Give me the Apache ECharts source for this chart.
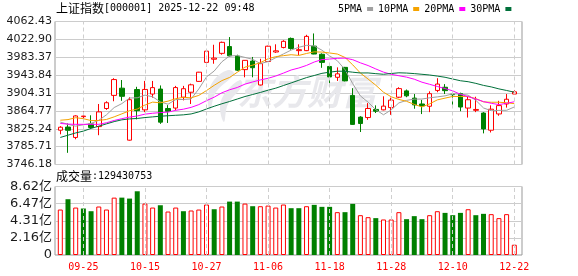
<!DOCTYPE html>
<html><head><meta charset="utf-8">
<script src="https://cdn.jsdelivr.net/npm/echarts@6/dist/echarts.min.js"></script>
<style>html,body{margin:0;padding:0;background:#fff}#c{width:578px;height:276px}</style>
</head><body><div id="c"></div>
<script>
const indexName = '上证指数';
const indexCode = '000001';
const stamp = '2025-12-22 09:48';
const lastVolume = 129430753;

const dates = ['09-22','09-23','09-24','09-25','09-26','09-29','09-30','10-09','10-10','10-13','10-14','10-15','10-16','10-17','10-20','10-21','10-22','10-23','10-24','10-27','10-28','10-29','10-30','10-31','11-03','11-04','11-05','11-06','11-07','11-10','11-11','11-12','11-13','11-14','11-17','11-18','11-19','11-20','11-21','11-24','11-25','11-26','11-27','11-28','12-01','12-02','12-03','12-04','12-05','12-08','12-09','12-10','12-11','12-12','12-15','12-16','12-17','12-18','12-19','12-22'];
const labelDates = ['09-25','10-15','10-27','11-06','11-18','11-28','12-10','12-22'];

const opens = [3822,3829,3806,3852,3836,3830,3870,3899,3915,3800,3912,3867,3902,3913,3870,3871,3895,3906,3930,3972,3979,3992,4007,3986,3956,3975,3922,3974,3995,4005,4025,3998,3998,4008,3990,3963,3939,3961,3899,3851,3850,3868,3867,3872,3895,3909,3893,3880,3875,3910,3917,3901.5,3903,3871,3866,3860,3822,3858,3880,3902];
const closes = [3828.6,3821.8,3853.6,3853.3,3828.1,3862.5,3882.8,3934.0,3897.0,3889.5,3865.2,3912.2,3916.2,3839.8,3863.9,3916.3,3913.8,3922.4,3950.3,3996.9,3981.5,4016.3,3986.5,3954.8,3976.5,3960.2,3969.3,4007.8,3997.6,4018.6,4002.8,4000.1,4029.5,3990.5,3972.0,3939.8,3946.7,3931.1,3834.9,3836.8,3870.0,3864.0,3875.3,3888.6,3914.0,3898.0,3878.0,3875.8,3902.8,3924.1,3909.5,3900.5,3873.3,3889.4,3867.9,3824.8,3868.5,3876.4,3890.5,3907.0];
const lows = [3813,3772,3802,3841,3825,3811,3867,3886,3887,3799,3846,3862,3894,3836,3838,3866,3888,3880,3929,3963,3969,3989,3985,3953,3939,3939,3921,3973,3993,4003,4000,3988,3997,3990,3960,3926,3931,3930,3834,3818,3845,3860,3866,3856,3893,3895,3869.5,3857.7,3862,3906,3902,3876,3864,3850,3862,3815,3817,3854,3872,3901];
const highs = [3831,3837,3855,3864,3855,3880,3886,3937,3933,3895,3918,3931,3931,3921,3877.5,3920,3920,3925,3951,3998,4011,4018,4028,3989,3977,3984,3980,4009,4012,4021,4027,4012,4033,4036,3992,3967,3961,3962,3915,3853,3882,3877,3897,3894,3917,3912,3902,3889,3908,3937,3924,3903.5,3905,3896,3896,3862,3877,3887,3902,3911];

const ma5 = [3840,3835,3831,3834,3837.1,3843.9,3856.1,3872.1,3880.9,3893.2,3893.7,3899.6,3896.0,3884.6,3879.5,3889.7,3890.0,3891.2,3913.3,3939.9,3952.9,3973.4,3986.2,3987.1,3983.0,3978.8,3969.4,3973.7,3982.3,3990.7,3999.2,4005.4,4009.7,4008.3,3999.0,3986.4,3975.7,3956.0,3924.9,3897.9,3883.9,3867.4,3856.2,3866.9,3882.4,3888.0,3890.8,3890.9,3893.7,3895.7,3898.0,3902.5,3902.0,3899.4,3888.1,3871.2,3865.1,3865.8,3866.0,3873.4];
const ma10 = [3844.1,3845.5,3849.7,3847.5,3843.3,3843.6,3845.8,3851.6,3858.2,3865.1,3868.8,3877.8,3884.1,3882.7,3886.3,3891.7,3894.8,3893.6,3899.0,3909.7,3921.3,3931.7,3938.7,3950.2,3961.5,3965.9,3971.4,3980.0,3984.7,3986.9,3989.0,3987.4,3991.7,3995.3,3994.8,3992.8,3990.5,3982.9,3966.6,3948.4,3935.1,3921.5,3906.1,3895.9,3890.1,3885.9,3879.1,3873.5,3880.3,3889.1,3893.0,3896.7,3896.5,3896.5,3891.9,3884.6,3883.8,3883.9,3882.7,3880.8];
const ma20 = [3837,3835.5,3835,3835,3835,3835,3838.5,3843.5,3847.5,3851,3853.5,3857.5,3859.5,3861,3862,3866,3868.5,3872.5,3878.6,3887.4,3895.1,3904.8,3911.4,3916.5,3923.9,3928.8,3933.2,3936.8,3941.9,3948.3,3955.2,3959.6,3965.3,3972.8,3978.2,3979.4,3981.0,3981.5,3978.0,3971.0,3965.0,3957.5,3950.5,3945.6,3942.5,3939.4,3934.8,3928.2,3923.5,3918.7,3914.1,3909.1,3901.3,3896.2,3891.0,3885.3,3881.5,3878.7,3881.5,3884.9];
const ma30 = [3806,3811,3816,3820,3826,3831,3836,3841,3845,3847,3848,3850,3851.5,3853,3854,3855,3856,3858,3862.5,3869,3875,3880.5,3885.5,3891,3896.5,3901,3905.5,3910.5,3915,3920.8,3926.6,3932.5,3938.4,3943.0,3947.8,3950.4,3952.5,3952.4,3950.3,3948.6,3948.7,3947.1,3945.7,3947.4,3949.0,3948.4,3947.2,3945.7,3944.1,3941.7,3939.1,3935.2,3931.4,3929.3,3925.6,3921.1,3917.8,3913.4,3909.9,3906.1];

// volume in 亿
const volumes = [5.72,7.02,5.97,5.85,5.51,6.10,5.72,7.22,7.22,7.10,8.02,6.47,5.97,6.26,5.47,5.97,5.51,5.60,5.72,6.35,5.76,6.10,6.72,6.72,6.47,6.14,6.14,6.22,5.97,6.35,5.89,5.89,6.14,6.31,6.06,6.06,5.39,5.39,6.43,5.01,4.76,4.64,4.47,4.47,5.39,4.51,4.89,4.51,5.01,5.51,5.30,5.01,5.30,5.76,5.01,5.18,5.14,4.64,5.14,1.294];
// 1 = red (up), 0 = green (down)
const volUp = [1,0,1,0,0,1,1,1,0,0,0,1,1,0,1,1,0,1,1,1,0,1,0,0,1,0,1,1,1,1,0,0,1,0,0,0,1,0,0,1,1,0,1,1,1,0,0,0,1,1,0,0,0,1,0,0,1,1,1,1];

const priceTicks = ['3746.18','3785.71','3825.24','3864.77','3904.31','3943.84','3983.37','4022.90','4062.43'];
const volTicks = ['0','2.16亿','4.31亿','6.47亿','8.62亿'];
const maNames = ['5PMA','10PMA','20PMA','30PMA'];

const RED = '#ff0000', GREEN = '#008000';
const maColors = ['#a0a0a0','#f5a300','#ff00ff','#00703a'];
const priceMin = parseFloat(priceTicks[0]), priceMax = parseFloat(priceTicks[priceTicks.length-1]);
const volMax = parseFloat(volTicks[volTicks.length-1]);

const FL = 55, FW = 467;          // frame
const DL = 56.45, DW = 461.7;     // data area
const PT = 21.5, PH = 143;        // price panel
const VT = 186.5, VH = 68.5;      // volume panel

const candleData = dates.map((d,i)=>[opens[i], closes[i], lows[i], highs[i]]);
const volData = volumes.map((v,i)=>({
  value: v,
  itemStyle: volUp[i] ? {color:'#ffffff', borderColor: RED, borderWidth: 1} : {color: GREEN, borderColor: GREEN, borderWidth: 0}
}));
const vLines = labelDates.map(d=>({xAxis: d}));
const dashStyle = {color:'#cfcfcf', type:[4,3], width:1};

const chart = echarts.init(document.getElementById('c'), null, {renderer:'canvas'});
const labelFont = "'DejaVu Sans','Noto Sans CJK SC',sans-serif";
const monoFont = "'DejaVu Sans Mono',monospace";
const wm = '#e8e8ec';
const richTitle = {
  a:{fontFamily:"'Noto Sans CJK SC'", fontSize:12, fontWeight:'normal', color:'#000'},
  b:{fontFamily:monoFont, fontSize:10, fontWeight:'normal', color:'#000'}
};

chart.setOption({
  animation: false,
  backgroundColor: '#ffffff',
  title: [
    {text: '{a|'+indexName+'}{b|['+indexCode+'] '+stamp+'}', left: 56, top: 2, padding: 0,
     textStyle: {fontWeight:'normal', rich: richTitle}},
    {text: '{a|成交量}{b|:'+lastVolume+'}', left: 56, top: 170, padding: 0,
     textStyle: {fontWeight:'normal', rich: richTitle}}
  ],
  legend: {
    data: maNames, left: 338, top: 4, padding: 0, itemGap: 5, itemWidth: 6, itemHeight: 4,
    icon: 'rect', align: 'right', selectedMode: false,
    textStyle: {fontFamily: monoFont, fontSize: 10, color:'#000', padding:0}
  },
  graphic: [
    {type:'text', left: 237, top: 74, z: 1, silent: true,
     style:{text:'东方财富', font:"italic bold 35px 'Noto Sans CJK SC'", fill: wm}},
    {type:'polygon', z: 1, silent: true, shape:{points:[[228,70],[214,80],[208,96],[210,110],[216,92],[234,74]], smooth:0.4}, style:{fill: wm}},
    {type:'polygon', z: 1, silent: true, shape:{points:[[240,80],[226,92],[220,106],[224,122],[228,104],[242,86]], smooth:0.4}, style:{fill: wm}}
  ],
  grid: [
    {left: FL, top: PT, width: FW, height: PH, show: true, borderColor:'#999', borderWidth:1},
    {left: DL, top: PT, width: DW, height: PH},
    {left: FL, top: VT, width: FW, height: VH, show: true, borderColor:'#999', borderWidth:1},
    {left: DL, top: VT, width: DW, height: VH}
  ],
  xAxis: [
    {gridIndex:0, type:'value', min:0, max:1, show:false},
    {gridIndex:1, type:'category', data: dates, boundaryGap:true, axisLine:{show:false}, axisTick:{show:false}, axisLabel:{show:false}, splitLine:{show:false}},
    {gridIndex:2, type:'value', min:0, max:1, show:false},
    {gridIndex:3, type:'category', data: dates, boundaryGap:true, axisLine:{show:false}, axisTick:{show:false}, splitLine:{show:false},
     axisLabel:{interval:(idx)=>labelDates.indexOf(dates[idx])>=0, color: RED, fontFamily: monoFont, fontSize: 10, margin: 7, hideOverlap:false}}
  ],
  yAxis: [
    {gridIndex:0, type:'value', min:0, max:priceTicks.length-1, interval:1, axisLine:{show:false}, axisTick:{show:false},
     splitLine:{show:true, lineStyle:{color:'#cccccc', width:1}},
     axisLabel:{formatter:(v)=>priceTicks[v], fontFamily: labelFont, fontSize: 11, color:'#1b1b1b', margin: 3, showMinLabel:true, showMaxLabel:true}},
    {gridIndex:1, type:'value', min: priceMin, max: priceMax, show:false, splitLine:{show:false}},
    {gridIndex:2, type:'value', min:0, max:volTicks.length-1, interval:1, axisLine:{show:false}, axisTick:{show:false},
     splitLine:{show:true, lineStyle:{color:'#cccccc', width:1}},
     axisLabel:{formatter:(v)=>volTicks[v], fontFamily: labelFont, fontSize: 13, color:'#1b1b1b', margin: 3, showMinLabel:true, showMaxLabel:true}},
    {gridIndex:3, type:'value', min:0, max: volMax, show:false, splitLine:{show:false}}
  ],
  series: [
    {type:'line', name:'vgrid1', xAxisIndex:1, yAxisIndex:1, data:[], z:1, silent:true,
     markLine:{symbol:['none','none'], silent:true, label:{show:false}, lineStyle: dashStyle, emphasis:{disabled:true}, data: vLines}},
    {type:'line', name:'vgrid2', xAxisIndex:3, yAxisIndex:3, data:[], z:1, silent:true,
     markLine:{symbol:['none','none'], silent:true, label:{show:false}, lineStyle: dashStyle, emphasis:{disabled:true}, data: vLines}},
    {type:'candlestick', name:'K', xAxisIndex:1, yAxisIndex:1, data: candleData, barWidth: 5, z: 3,
     itemStyle:{color:'#ffffff', color0: GREEN, borderColor: RED, borderColor0: GREEN, borderWidth: 1}},
    ...maNames.map((n,k)=>({type:'line', name:n, xAxisIndex:1, yAxisIndex:1, data:[ma5,ma10,ma20,ma30][k],
      symbol:'none', smooth:false, z: 4, color: maColors[k], lineStyle:{width:1, color: maColors[k]}})),
    {type:'bar', name:'VOL', xAxisIndex:3, yAxisIndex:3, data: volData, barWidth: 5, z: 3}
  ]
});
</script></body></html>
